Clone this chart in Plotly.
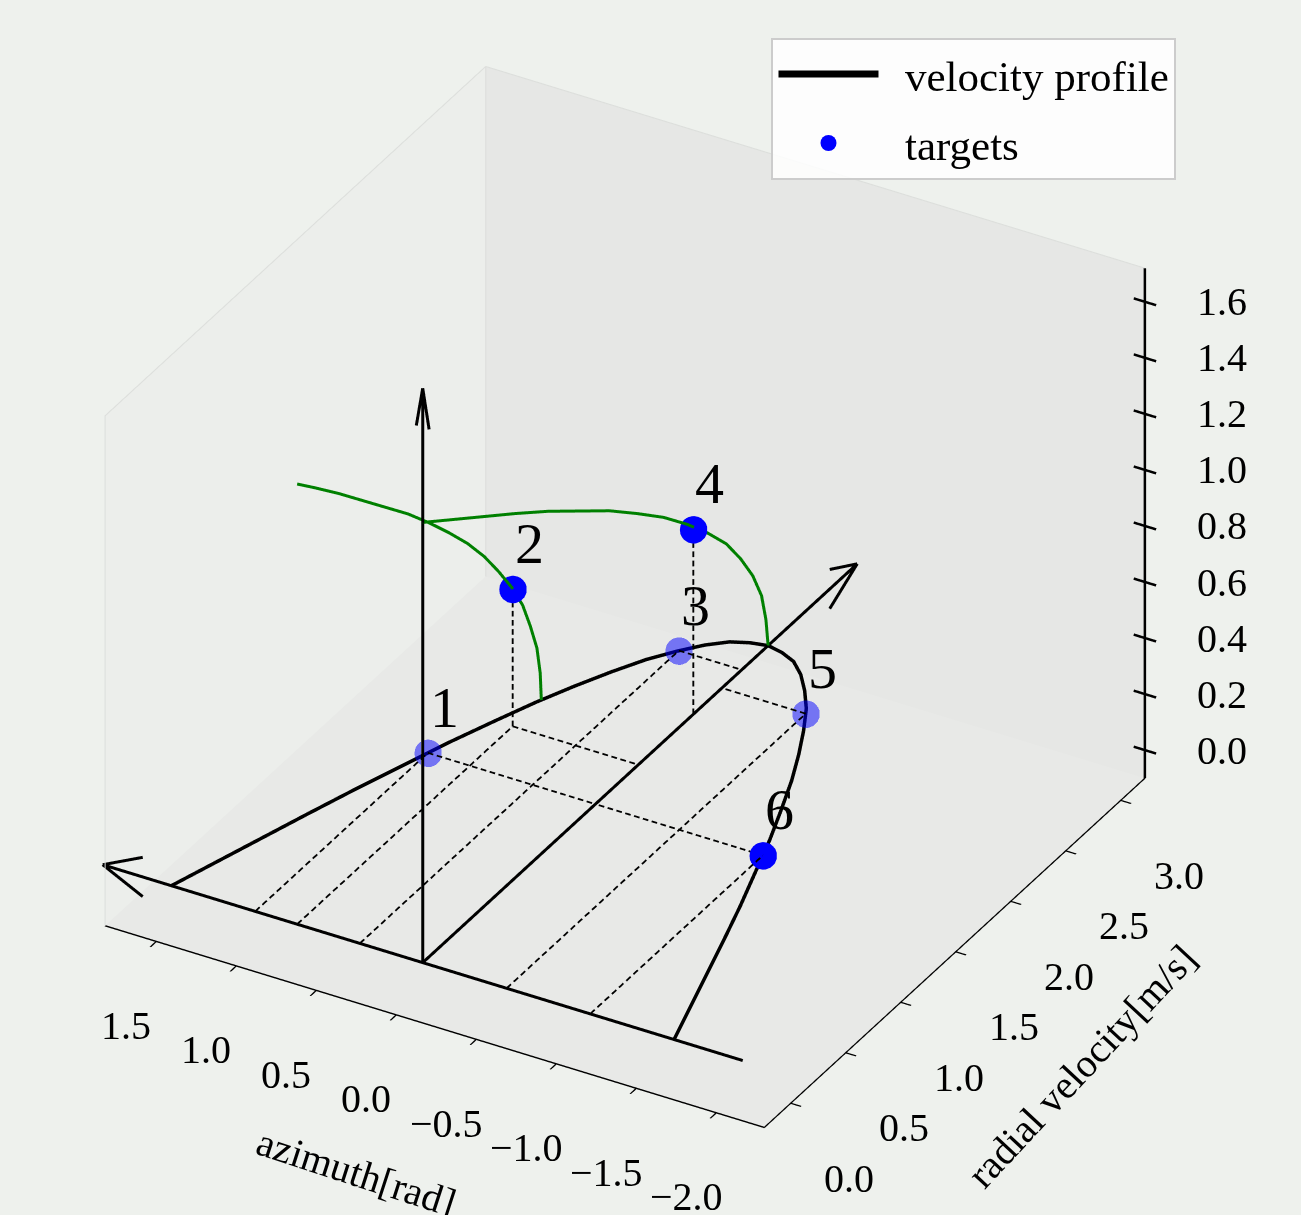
import math
import plotly.graph_objects as go

# ---------------- data ----------------
profile_az = [1.571, 1.5, 1.4, 1.3, 1.2, 1.1, 1.0, 0.9, 0.8, 0.7, 0.6, 0.5, 0.4, 0.3, 0.2, 0.1, 0.0,
              -0.1, -0.2, -0.3, -0.4, -0.5, -0.6, -0.7, -0.8, -0.9, -1.0, -1.1, -1.2, -1.3, -1.4, -1.5, -1.571]
profile_vr = [0.00, 0.22, 0.53, 0.84, 1.14, 1.42, 1.70, 1.95, 2.19, 2.40, 2.59, 2.76, 2.89, 3.00, 3.08, 3.12, 3.14,
              3.12, 3.08, 3.00, 2.89, 2.76, 2.59, 2.40, 2.19, 1.95, 1.70, 1.42, 1.14, 0.84, 0.53, 0.22, 0.00]

green_el = [0.0, 0.1, 0.2, 0.3, 0.4, 0.5, 0.6, 0.7, 0.8, 0.9, 1.0, 1.1, 1.2, 1.3, 1.4, 1.5, 1.571]
green_az = [0.785, 0.0]
green_vr_a = [2.22, 2.21, 2.18, 2.12, 2.05, 1.95, 1.83, 1.70, 1.55, 1.38, 1.20, 1.01, 0.80, 0.59, 0.38, 0.16, 0.00]
green_vr_b = [3.14, 3.12, 3.08, 3.00, 2.89, 2.76, 2.59, 2.40, 2.19, 1.95, 1.70, 1.42, 1.14, 0.84, 0.53, 0.22, 0.00]

target_label = ["1", "2", "3", "4", "5", "6"]
target_az = [1.047, 0.785, 0.393, 0.0, -0.524, -1.047]
target_vr = [1.57, 1.96, 2.90, 2.46, 2.72, 1.57]
target_el = [0.0, 0.49, 0.0, 0.66, 0.0, 0.0]
target_faded = [True, False, True, False, True, False]

x_arrow = [-2.0, 2.0]
y_arrow = [0.0, 3.95]
z_arrow = [0.0, 2.05]

# axis box (as in the picture) and a wider overlay box so the arrows are not clipped
x_range = [1.82, -2.30]
y_range = [-0.24, 3.22]
z_range = [-0.10, 1.72]
x_range2 = [2.20, -2.40]
y_range2 = [-0.34, 4.30]
z_range2 = [-0.20, 2.20]
x_ticks = [1.5, 1.0, 0.5, 0.0, -0.5, -1.0, -1.5, -2.0]
y_ticks = [0.0, 0.5, 1.0, 1.5, 2.0, 2.5, 3.0]
z_ticks = [0.0, 0.2, 0.4, 0.6, 0.8, 1.0, 1.2, 1.4, 1.6]
x_title = "azimuth[rad]"
y_title = "radial velocity[m/s]"


def fmt(v):
    return f"{v:.1f}".replace("-", "\u2212")


FONT = "Liberation Serif"
fig = go.Figure()

# ---- scene 1: the axis box ----
fig.add_trace(go.Scatter3d(x=profile_az, y=profile_vr, z=[0.0] * len(profile_az), mode="lines",
                           line=dict(color="black", width=7), name="\u00a0\u00a0velocity profile",
                           showlegend=True, hoverinfo="skip", scene="scene"))

# ---- scene 2: overlay with the drawing ----
# faint pane borders
xl, xh = x_range[1], x_range[0]
yl, yh = y_range
zl, zh = z_range
fig.add_trace(go.Scatter3d(x=[xh, xh, xh, xh, None, xh, xl], y=[yl, yl, yh, yh, None, yh, yh],
                           z=[zl, zh, zh, zl, None, zh, zh], mode="lines",
                           line=dict(color="#dcdedb", width=2), showlegend=False, hoverinfo="skip",
                           connectgaps=False, scene="scene2"))

for az, vr in zip(green_az, [green_vr_a, green_vr_b]):
    fig.add_trace(go.Scatter3d(x=[az] * len(green_el), y=vr, z=green_el, mode="lines",
                               line=dict(color="#008000", width=6), showlegend=False, hoverinfo="skip",
                               scene="scene2"))

# dashed projection lines (short dashes like the original)
PX_PER_UNIT = (168.0, 147.0, 284.0)   # approx. screen length of one unit along x / y / z
DASH_PERIOD, DASH_DUTY = 9.5, 0.62
dx, dy, dz = [], [], []


def add_dashed(p0, p1):
    length = math.sqrt(sum(((b - a) * s) ** 2 for a, b, s in zip(p0, p1, PX_PER_UNIT)))
    n = max(1, round(length / DASH_PERIOD))
    for i in range(n):
        t0, t1 = i / n, (i + DASH_DUTY) / n
        dx.extend([p0[0] + (p1[0] - p0[0]) * t0, p0[0] + (p1[0] - p0[0]) * t1, None])
        dy.extend([p0[1] + (p1[1] - p0[1]) * t0, p0[1] + (p1[1] - p0[1]) * t1, None])
        dz.extend([p0[2] + (p1[2] - p0[2]) * t0, p0[2] + (p1[2] - p0[2]) * t1, None])


for a, v, e in zip(target_az, target_vr, target_el):
    if a != 0.0:
        add_dashed((a, 0.0, 0.0), (a, v, 0.0))
        add_dashed((a, v, 0.0), (0.0, v, 0.0))
    if e > 0:
        add_dashed((a, v, 0.0), (a, v, e))
fig.add_trace(go.Scatter3d(x=dx, y=dy, z=dz, mode="lines", line=dict(color="black", width=3.6),
                           showlegend=False, hoverinfo="skip", connectgaps=False, scene="scene2"))

ax_x, ax_y, ax_z = [], [], []
ax_x += [x_arrow[0], x_arrow[1], None]; ax_y += [0, 0, None]; ax_z += [0, 0, None]
for s in (1, -1):
    ax_x += [x_arrow[1], x_arrow[1] - 0.25, None]; ax_y += [0, 0, None]; ax_z += [0, s * 0.07, None]
ax_x += [0, 0, None]; ax_y += [y_arrow[0], y_arrow[1], None]; ax_z += [0, 0, None]
for s in (1, -1):
    ax_x += [0, 0, None]; ax_y += [y_arrow[1], y_arrow[1] - 0.25, None]; ax_z += [0, s * 0.07, None]
ax_x += [0, 0, None]; ax_y += [0, 0, None]; ax_z += [z_arrow[0], z_arrow[1], None]
for s in (1, -1):
    ax_x += [0, s * 0.04, None]; ax_y += [0, 0, None]; ax_z += [z_arrow[1], z_arrow[1] - 0.14, None]
fig.add_trace(go.Scatter3d(x=ax_x, y=ax_y, z=ax_z, mode="lines", line=dict(color="black", width=6),
                           showlegend=False, hoverinfo="skip", connectgaps=False, scene="scene2"))

# vertical axis on the back-right edge of the box, like the original
zx, zy, zz = [x_range[1], x_range[1], None], [y_range[1], y_range[1], None], [z_range[0], z_range[1], None]
for t in z_ticks:
    zx += [x_range[1] + 0.07, x_range[1] - 0.07, None]; zy += [y_range[1], y_range[1], None]; zz += [t, t, None]
fig.add_trace(go.Scatter3d(x=zx, y=zy, z=zz, mode="lines", line=dict(color="black", width=5),
                           showlegend=False, hoverinfo="skip", connectgaps=False, scene="scene2"))

for faded in (False, True):
    idx = [i for i, f in enumerate(target_faded) if f == faded]
    fig.add_trace(go.Scatter3d(x=[target_az[i] for i in idx], y=[target_vr[i] for i in idx],
                               z=[target_el[i] for i in idx], mode="markers",
                               marker=dict(color="#0000ff", size=16, line=dict(width=0)),
                               opacity=0.5 if faded else 1.0, name="\u00a0\u00a0targets",
                               legendgroup="targets", showlegend=not faded, hoverinfo="skip", scene="scene2"))

tick_font = dict(family=FONT, size=40, color="black")
annotations = [dict(x=a, y=v, z=e, text=t, showarrow=False, xanchor="left", yanchor="bottom",
                    xshift=0, yshift=11, font=dict(family=FONT, size=58, color="black"))
               for t, a, v, e in zip(target_label, target_az, target_vr, target_el)]
annotations += [dict(x=x_range[1], y=y_range[1], z=t, text=fmt(t), showarrow=False, xanchor="left",
                     yanchor="middle", xshift=50, font=tick_font) for t in z_ticks]
annotations += [dict(x=t, y=y_range[0], z=z_range[0], text=fmt(t), showarrow=False, xanchor="center",
                     yanchor="middle", xshift=-30, yshift=-84, font=tick_font) for t in x_ticks]
annotations += [dict(x=x_range[1], y=t, z=z_range[0], text=fmt(t), showarrow=False, xanchor="center",
                     yanchor="middle", xshift=58, yshift=-75, font=tick_font) for t in y_ticks]
annotations += [
    dict(x=(x_range[0] + x_range[1]) / 2, y=y_range[0], z=z_range[0], text=x_title, showarrow=False,
         textangle=18, xshift=-78, yshift=-146, font=tick_font),
    dict(x=x_range[1], y=(y_range[0] + y_range[1]) / 2, z=z_range[0], text=y_title, showarrow=False,
         textangle=-47, xshift=127, yshift=-114, font=tick_font),
]

# ---- camera: identical screen mapping for both scenes ----
zoom = 1.253
aspect1 = dict(x=1.0 * zoom, y=1.0 * zoom, z=0.79 * zoom)
r1 = dict(x=x_range, y=y_range, z=z_range)
r2 = dict(x=x_range2, y=y_range2, z=z_range2)
aspect2 = {k: aspect1[k] * (r2[k][1] - r2[k][0]) / (r1[k][1] - r1[k][0]) for k in "xyz"}
shift = {k: aspect1[k] * ((r1[k][0] + r1[k][1]) / 2 - (r2[k][0] + r2[k][1]) / 2) / (r1[k][1] - r1[k][0])
         for k in "xyz"}
elev, azim = math.radians(32), math.radians(-60)
view_dir = dict(x=math.cos(elev) * math.cos(azim), y=math.cos(elev) * math.sin(azim), z=math.sin(elev))
dist = 1.8
c1 = dict(x=0.0131, y=-0.0030, z=-0.0147)
e1 = {k: c1[k] + dist * view_dir[k] for k in "xyz"}
c2 = {k: c1[k] + shift[k] for k in "xyz"}
e2 = {k: e1[k] + shift[k] for k in "xyz"}

axis_common = dict(showgrid=False, zeroline=False, showspikes=False, showline=True, linecolor="black",
                   linewidth=3, ticks="outside", ticklen=12, tickwidth=3, tickcolor="black",
                   showticklabels=False, showbackground=True, title=dict(text=""))
hidden = dict(visible=False, showgrid=False, zeroline=False, showspikes=False, showline=False,
              showticklabels=False, ticks="", showbackground=False, title=dict(text=""))
domain = dict(x=[0.0, 0.97], y=[0.0, 1.0])

fig.update_layout(
    width=1301, height=1215, margin=dict(l=0, r=0, t=0, b=0),
    paper_bgcolor="#eef1ed",
    font=dict(family=FONT, color="black"),
    scene=dict(
        domain=domain,
        xaxis=dict(range=x_range, tickvals=x_ticks, backgroundcolor="#eceeeb", **axis_common),
        yaxis=dict(range=y_range, tickvals=y_ticks, backgroundcolor="#e6e7e5", **axis_common),
        zaxis=dict(range=z_range, tickvals=z_ticks, title=dict(text=""), backgroundcolor="#e8e9e7",
                   showgrid=False, zeroline=False, showspikes=False, showline=False, ticks="",
                   showticklabels=False, showbackground=True),
        aspectmode="manual", aspectratio=aspect1,
        camera=dict(projection=dict(type="orthographic"), up=dict(x=0, y=0, z=1), center=c1, eye=e1),
    ),
    scene2=dict(
        domain=domain, bgcolor="rgba(0,0,0,0)",
        xaxis=dict(range=x_range2, **hidden),
        yaxis=dict(range=y_range2, **hidden),
        zaxis=dict(range=z_range2, **hidden),
        aspectmode="manual", aspectratio=aspect2,
        camera=dict(projection=dict(type="orthographic"), up=dict(x=0, y=0, z=1), center=c2, eye=e2),
        annotations=annotations,
    ),
    legend=dict(x=0.593, y=0.969, xanchor="left", yanchor="top", bgcolor="rgba(255,255,255,0.85)",
                bordercolor="#cccccc", borderwidth=2, font=dict(family=FONT, size=43, color="black"),
                itemwidth=100),
)

fig.write_html("out.html", config={"displayModeBar": False},
               post_script="document.body.style.margin='0';document.body.style.overflow='hidden';")
